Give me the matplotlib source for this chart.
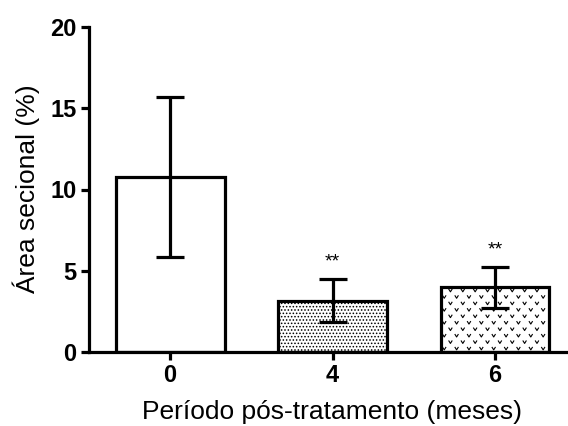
import matplotlib
matplotlib.use("Agg")
import matplotlib.pyplot as plt
from matplotlib.path import Path
import numpy as np

categories = ["0", "4", "6"]
means = [10.77, 3.15, 3.97]
errors = [4.95, 1.32, 1.25]
stars = ["", "**", "**"]
yticks = [0, 5, 10, 15, 20]

plt.rcParams['hatch.linewidth'] = 0.7
fig = plt.figure(figsize=(5.68, 4.26), dpi=100)
ax = fig.add_axes([89/568, 1 - 352/426, (568 - 89)/568, (352 - 27)/426])

x = np.arange(len(categories))
bars = ax.bar(x, means, width=0.67, color='white', edgecolor='black', linewidth=2.3,
              zorder=2)
bars[1].set_hatch('.....')

# 'v' texture for the third bar, derived from the bar geometry
b = bars[2]
x0, y0 = b.get_x(), b.get_y()
w, h = b.get_width(), b.get_height()
vx, vy = [], []
nrows = 10
ncol = 9
for r in range(nrows):
    yy = y0 + h * (r + 0.5) / nrows
    off = 0.5 if r % 2 else 0.0
    for c in range(ncol):
        xx = x0 + w * (c + 0.3 + off) / (ncol - 0.2)
        if x0 + w * 0.02 < xx < x0 + w * 0.98:
            vx.append(xx)
            vy.append(yy)
vmark = Path([(-1, 1), (0, -0.6), (1, 1)], [Path.MOVETO, Path.LINETO, Path.LINETO])
ax.scatter(vx, vy, marker=vmark, s=7, facecolors='none', edgecolors='black',
           linewidths=0.8, zorder=2.5, clip_path=b, clip_on=True)

ax.errorbar(x, means, yerr=errors, fmt='none', ecolor='black', elinewidth=2.3,
            capsize=10, capthick=2.3, zorder=3)

for xi, m, e, s in zip(x, means, errors, stars):
    if s:
        ax.text(xi, m + e + 0.55, s, ha='center', va='bottom', fontsize=14,
                family=['Liberation Sans', 'DejaVu Sans'])

ax.set_xlim(-0.5, 2.45)
ax.set_ylim(0, 20)
ax.set_yticks(yticks)
ax.set_xticks(x)
ax.set_xticklabels(categories)
for side in ['top', 'right']:
    ax.spines[side].set_visible(False)
for side in ['left', 'bottom']:
    ax.spines[side].set_linewidth(2.3)
ax.tick_params(width=2.3, length=6, direction='out', pad=3, labelsize=17)
for lab in ax.get_xticklabels() + ax.get_yticklabels():
    lab.set_family(['Liberation Sans Narrow', 'Liberation Sans', 'DejaVu Sans'])
    lab.set_fontweight('bold')
ax.set_xlabel('Período pós-tratamento (meses)', fontsize=19,
              family=['Liberation Sans', 'DejaVu Sans'], va='center')
ax.xaxis.set_label_coords((332 - 89) / 479, (352 - 412) / 325)
ax.set_ylabel('Área secional (%)', fontsize=19,
              family=['Liberation Sans', 'DejaVu Sans'], va='center')
ax.yaxis.set_label_coords((26 - 89) / 479, (352 - 189) / 325)

fig.savefig('out.png', dpi=100)
